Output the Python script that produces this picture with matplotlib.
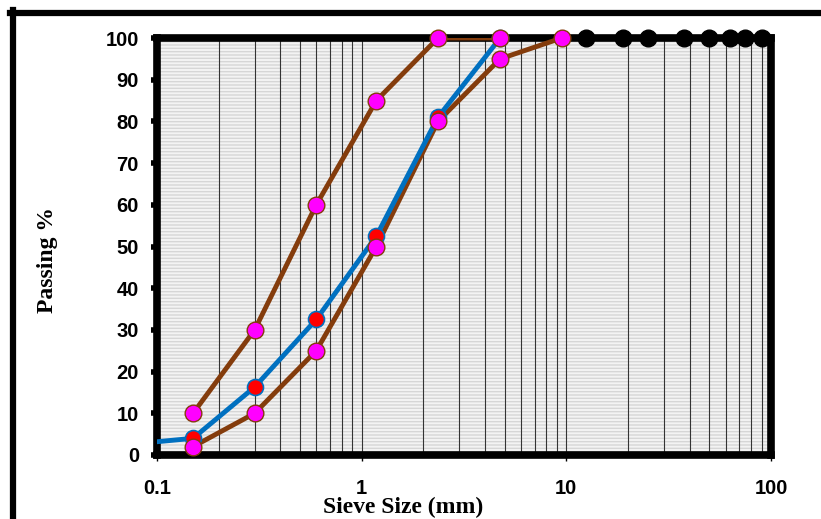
import numpy as np
import matplotlib
matplotlib.use("Agg")
import matplotlib.pyplot as plt
from matplotlib.lines import Line2D
from matplotlib.ticker import LogLocator, NullFormatter

# sieve sizes (mm) and % passing
sample_sieve = [0.075, 0.15, 0.3, 0.6, 1.18, 2.36, 4.75]
sample_pass = [2.6, 4, 16.3, 32.5, 52.5, 81, 100]

upper_sieve = [0.15, 0.3, 0.6, 1.18, 2.36, 4.75]
upper_pass = [10, 30, 60, 85, 100, 100]

lower_sieve = [0.15, 0.3, 0.6, 1.18, 2.36, 4.75, 9.5]
lower_pass = [2, 10, 25, 50, 80, 95, 100]

coarse_sieve = [12.5, 19, 25, 37.5, 50, 63, 75, 90]
coarse_pass = [100, 100, 100, 100, 100, 100, 100, 100]

xticks = [0.1, 1, 10, 100]
xticklabels = ["0.1", "1", "10", "100"]
yticks = list(range(0, 101, 10))

plt.rcParams["hatch.color"] = "#d6d6d6"
plt.rcParams["hatch.linewidth"] = 1.0

fig = plt.figure(figsize=(8.21, 5.19), dpi=100)
ax = fig.add_axes([157/821, 64/519, 614/821, 417/519])

# striped background
ax.set_facecolor("#f3f3f3")
ax.add_patch(plt.Rectangle((0, 0), 1, 1, transform=ax.transAxes,
                           facecolor="#f3f3f3", edgecolor="#d6d6d6",
                           hatch="-----", lw=0, zorder=0))

ax.set_xscale("log")
ax.set_xlim(0.1, 100)
ax.set_ylim(0, 100)

ax.xaxis.set_minor_locator(LogLocator(base=10, subs=np.arange(2, 10)))
ax.xaxis.set_minor_formatter(NullFormatter())
ax.grid(which="both", axis="x", color="#333333", lw=0.8, zorder=1)

# lines
ax.plot(upper_sieve, upper_pass, color="#843c0c", lw=3.5, zorder=3)
ax.plot(lower_sieve, lower_pass, color="#843c0c", lw=3.5, zorder=3)
ax.plot(sample_sieve, sample_pass, color="#0070c0", lw=3.5, zorder=3.2)

# markers
s = np.array(sample_sieve)
p = np.array(sample_pass)
m = s >= 0.1
ax.plot(coarse_sieve, coarse_pass, "o", color="black", ms=12,
        clip_on=False, zorder=4)
ax.plot(s[m], p[m], "o", mfc="red", mec="#0070c0", mew=1.2, ms=11.5,
        clip_on=False, zorder=4.2)
ax.plot(upper_sieve, upper_pass, "o", mfc="#ff00ff", mec="#843c0c", mew=1,
        ms=12, clip_on=False, zorder=4.4)
ax.plot(lower_sieve, lower_pass, "o", mfc="#ff00ff", mec="#843c0c", mew=1,
        ms=12, clip_on=False, zorder=4.4)

for sp in ax.spines.values():
    sp.set_linewidth(5.5)
    sp.set_color("black")

ax.set_xticks(xticks)
ax.set_xticklabels(xticklabels)
ax.set_yticks(yticks)
ax.tick_params(axis="y", which="major", length=4, width=4, pad=9,
               direction="out", labelsize=14.5)
ax.tick_params(axis="x", which="major", length=4, width=1, pad=13,
               direction="out", labelsize=14.5)
ax.tick_params(axis="x", which="minor", length=0)
for lab in ax.get_xticklabels() + ax.get_yticklabels():
    lab.set_fontfamily("Liberation Sans")
    lab.set_fontweight("bold")

fig.text(403/821, 12/519, "Sieve Size (mm)", ha="center", va="center",
         fontfamily="Liberation Serif", fontweight="bold", fontsize=17)
fig.text(47/821, 259/519, "Passing %", ha="center", va="center", rotation=90,
         fontfamily="Liberation Serif", fontweight="bold", fontsize=17)

# outer frame, cut at the right and bottom
fig.add_artist(Line2D([10/821, 1.0], [506/519, 506/519], color="black",
                      lw=4.5, transform=fig.transFigure))
fig.add_artist(Line2D([12.5/821, 12.5/821], [0, 509/519], color="black",
                      lw=4.5, transform=fig.transFigure))

fig.savefig("out.png", dpi=100)
